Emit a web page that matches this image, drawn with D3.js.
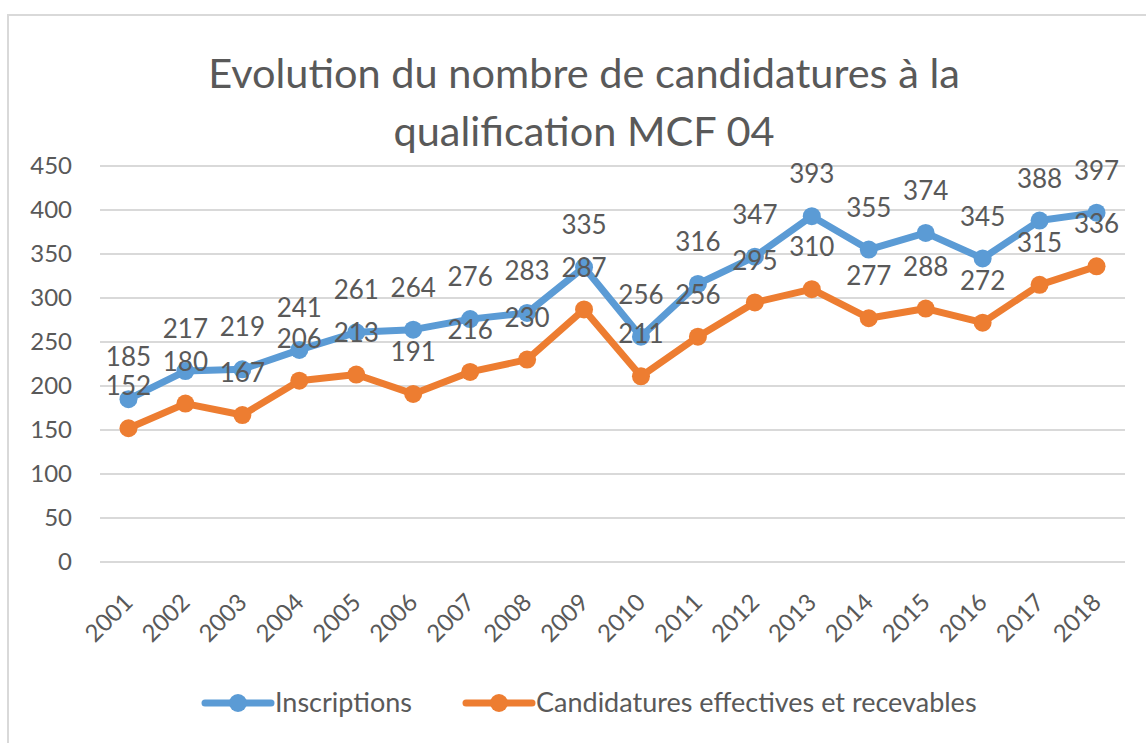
<!DOCTYPE html>
<html>
<head>
<meta charset="utf-8">
<script src="https://cdn.jsdelivr.net/npm/d3@7"></script>
<style>
  body { margin: 0; background: #fff; }
  text { font-family: Lato, "Open Sans", sans-serif; fill: #595959; }
</style>
</head>
<body>
<div id="vis"><svg></svg></div>
<script>
const years = ["2001","2002","2003","2004","2005","2006","2007","2008","2009",
  "2010","2011","2012","2013","2014","2015","2016","2017","2018"];
const inscriptions = [185,217,219,241,261,264,276,283,335,256,316,347,393,355,374,345,388,397];
const candidatures = [152,180,167,206,213,191,216,230,287,211,256,295,310,277,288,272,315,336];
const yTicks = [0,50,100,150,200,250,300,350,400,450];
const titleLines = ["Evolution du nombre de candidatures à la", "qualification MCF 04"];

const series = [
  {name: "Inscriptions", values: inscriptions, color: "#5b9bd5"},
  {name: "Candidatures effectives et recevables", values: candidatures, color: "#ed7d31"}
];

const width = 1146, height = 743;
const margin = {top: 166, right: 21, bottom: 181, left: 100};

const svg = d3.select("#vis").select("svg")
  .attr("width", width)
  .attr("height", height);

// chart frame (only top/left visible in the crop)
svg.append("rect")
  .attr("x", 8).attr("y", 15)
  .attr("width", width + 20).attr("height", height + 20)
  .attr("fill", "none")
  .attr("stroke", "#d9d9d9")
  .attr("stroke-width", 2);

svg.selectAll("text.title")
  .data(titleLines)
  .enter()
  .append("text")
  .attr("class", "title")
  .attr("x", 584)
  .attr("y", (d, i) => 88 + i * 58)
  .attr("text-anchor", "middle")
  .style("font-size", "41.5px")
  .text(d => d);

let x = d3.scalePoint()
  .domain(years)
  .range([margin.left, width - margin.right])
  .padding(0.5);

let y = d3.scaleLinear()
  .domain([0, 450])
  .range([height - margin.bottom, margin.top]);

// gridlines
svg.append("g")
  .selectAll("line")
  .data(yTicks)
  .enter()
  .append("line")
  .attr("x1", margin.left)
  .attr("x2", width - margin.right)
  .attr("y1", d => y(d))
  .attr("y2", d => y(d))
  .attr("stroke", "#d9d9d9")
  .attr("stroke-width", 2);

svg.append("g")
  .selectAll("text")
  .data(yTicks)
  .enter()
  .append("text")
  .attr("x", 72)
  .attr("y", d => y(d))
  .attr("dy", "0.35em")
  .attr("text-anchor", "end")
  .style("font-size", "24px")
  .text(d => d);

svg.append("g")
  .selectAll("text")
  .data(years)
  .enter()
  .append("text")
  .attr("text-anchor", "end")
  .attr("transform", d => `translate(${x(d) + 6},${y(0) + 42}) rotate(-45)`)
  .style("font-size", "24px")
  .text(d => d);

let line = d3.line()
  .x((d, i) => x(years[i]))
  .y(d => y(d));

series.forEach(s => {
  let g = svg.append("g");
  g.append("path")
    .datum(s.values)
    .attr("d", line)
    .attr("fill", "none")
    .attr("stroke", s.color)
    .attr("stroke-width", 7)
    .attr("stroke-linejoin", "round");
  g.selectAll("circle")
    .data(s.values)
    .enter()
    .append("circle")
    .attr("cx", (d, i) => x(years[i]))
    .attr("cy", d => y(d))
    .attr("r", 9)
    .attr("fill", s.color);
});

// data labels (drawn after both lines, as in the original)
series.forEach(s => {
  svg.append("g")
    .selectAll("text")
    .data(s.values)
    .enter()
    .append("text")
    .attr("x", (d, i) => x(years[i]))
    .attr("y", d => y(d) - 42)
    .attr("dy", "0.35em")
    .attr("text-anchor", "middle")
    .style("font-size", "26px")
    .text(d => d);
});

// legend
let legendX = [205, 466];
let legend = svg.selectAll("g.legend")
  .data(series)
  .enter()
  .append("g")
  .attr("class", "legend")
  .attr("transform", (d, i) => `translate(${legendX[i]},703)`);

legend.append("line")
  .attr("x1", 0).attr("x2", 66)
  .attr("stroke", d => d.color)
  .attr("stroke-width", 7)
  .attr("stroke-linecap", "round");
legend.append("circle")
  .attr("cx", 33).attr("r", 9)
  .attr("fill", d => d.color);
legend.append("text")
  .attr("x", 70)
  .attr("dy", "0.35em")
  .style("font-size", "27px")
  .text(d => d.name);
</script>
</body>
</html>
